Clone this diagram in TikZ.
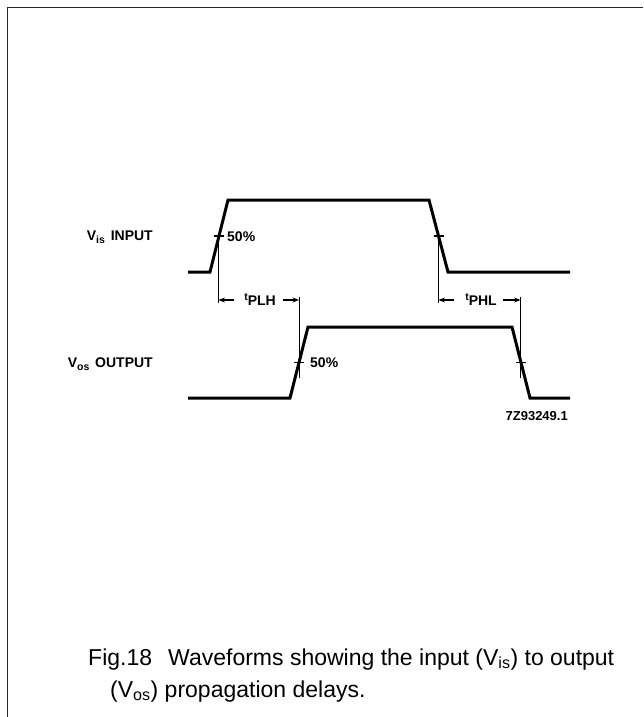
\documentclass[tikz,border=0pt]{standalone}
\usepackage{fontspec}
\setmainfont{Liberation Sans}
\usetikzlibrary{arrows.meta}
\begin{document}
\begin{tikzpicture}[x=1pt,y=-1pt,
  frame/.style={line width=1.8pt, draw=black!85},
  wave/.style={line width=3pt, line join=miter},
  tickmark/.style={line width=1.4pt},
  dimline/.style={line width=1pt},
  dimarrow/.style={line width=1.2pt,-{Stealth[length=6.5pt,width=5pt]}},
  lab/.style={font=\bfseries\fontsize{14}{15}\selectfont, inner sep=0pt},
  captext/.style={font=\fontsize{23}{26}\selectfont, inner sep=0pt, anchor=base west}]
\useasboundingbox (0,0) rectangle (643,717);
\draw[frame] (643,7.5) -- (7.5,7.5) -- (7.5,717);

% input waveform
\coordinate (i0) at (188,272);
\coordinate (i1) at (210,272);
\coordinate (i2) at (228,200);
\coordinate (i3) at (429,200);
\coordinate (i4) at (448,272);
\coordinate (i5) at (570,272);
\draw[wave] (i0) -- (i1) -- (i2) -- (i3) -- (i4) -- (i5);
% output waveform
\coordinate (o0) at (188,398);
\coordinate (o1) at (290,398);
\coordinate (o2) at (308,327);
\coordinate (o3) at (512,327);
\coordinate (o4) at (530,398);
\coordinate (o5) at (570,398);
\draw[wave] (o0) -- (o1) -- (o2) -- (o3) -- (o4) -- (o5);

% 50% points
\coordinate (ir) at (218.5,236);
\coordinate (if) at (438.5,236);
\coordinate (or) at (299,362.5);
\coordinate (of) at (521,362.5);
\foreach \p in {ir,if,or,of}
  \draw[tickmark] ([xshift=-5pt]\p) -- ([xshift=5pt]\p);

% vertical reference lines
\coordinate (irb) at (218.5,303);
\coordinate (ifb) at (438.5,303);
\coordinate (ort) at (299,297);
\coordinate (orb) at (299,378);
\coordinate (oft) at (520.5,297);
\coordinate (ofb) at (520.5,378);
\draw[dimline] ([yshift=-5pt]ir) -- (irb);
\draw[dimline] ([yshift=-5pt]if) -- (ifb);
\draw[dimline] (ort) -- (orb);
\draw[dimline] (oft) -- (ofb);

% dimension arrows
\coordinate (pl1) at (234,300);
\coordinate (pl2) at (283,300);
\coordinate (ph1) at (454,300);
\coordinate (ph2) at (503,300);
\draw[dimarrow] (pl1) -- (218.5,300);
\draw[dimarrow] (pl2) -- (299,300);
\draw[dimarrow] (ph1) -- (438.5,300);
\draw[dimarrow] (ph2) -- (520.5,300);
\node[lab, anchor=base] (tplh) at (260,305) {\raisebox{5pt}{\fontsize{10.5}{10}\selectfont t}PLH};
\node[lab, anchor=base] (tphl) at (481,305) {\raisebox{5pt}{\fontsize{10.5}{10}\selectfont t}PHL};

% labels
\node[lab, anchor=base west] (p1) at (227,241) {50\%};
\node[lab, anchor=base west] (p2) at (310,367) {50\%};
\node[lab, anchor=base east] (vin) at (153,240) {V\raisebox{-3pt}{\fontsize{10.5}{10}\selectfont is}\hspace{2pt} INPUT};
\node[lab, anchor=base east] (vout) at (153,367) {V\raisebox{-3pt}{\fontsize{10.5}{10}\selectfont os}\hspace{2pt} OUTPUT};
\node[lab, anchor=base east, font=\bfseries\fontsize{13}{14}\selectfont] (code) at (568,420) {7Z93249.1};

% caption
\node[captext] (c1) at (88,665) {Fig.18\hspace{0.7em}Waveforms showing the input (V\textsubscript{is}) to output};
\node[captext] (c2) at (110,697) {(V\textsubscript{os}) propagation delays.};
\end{tikzpicture}
\end{document}
